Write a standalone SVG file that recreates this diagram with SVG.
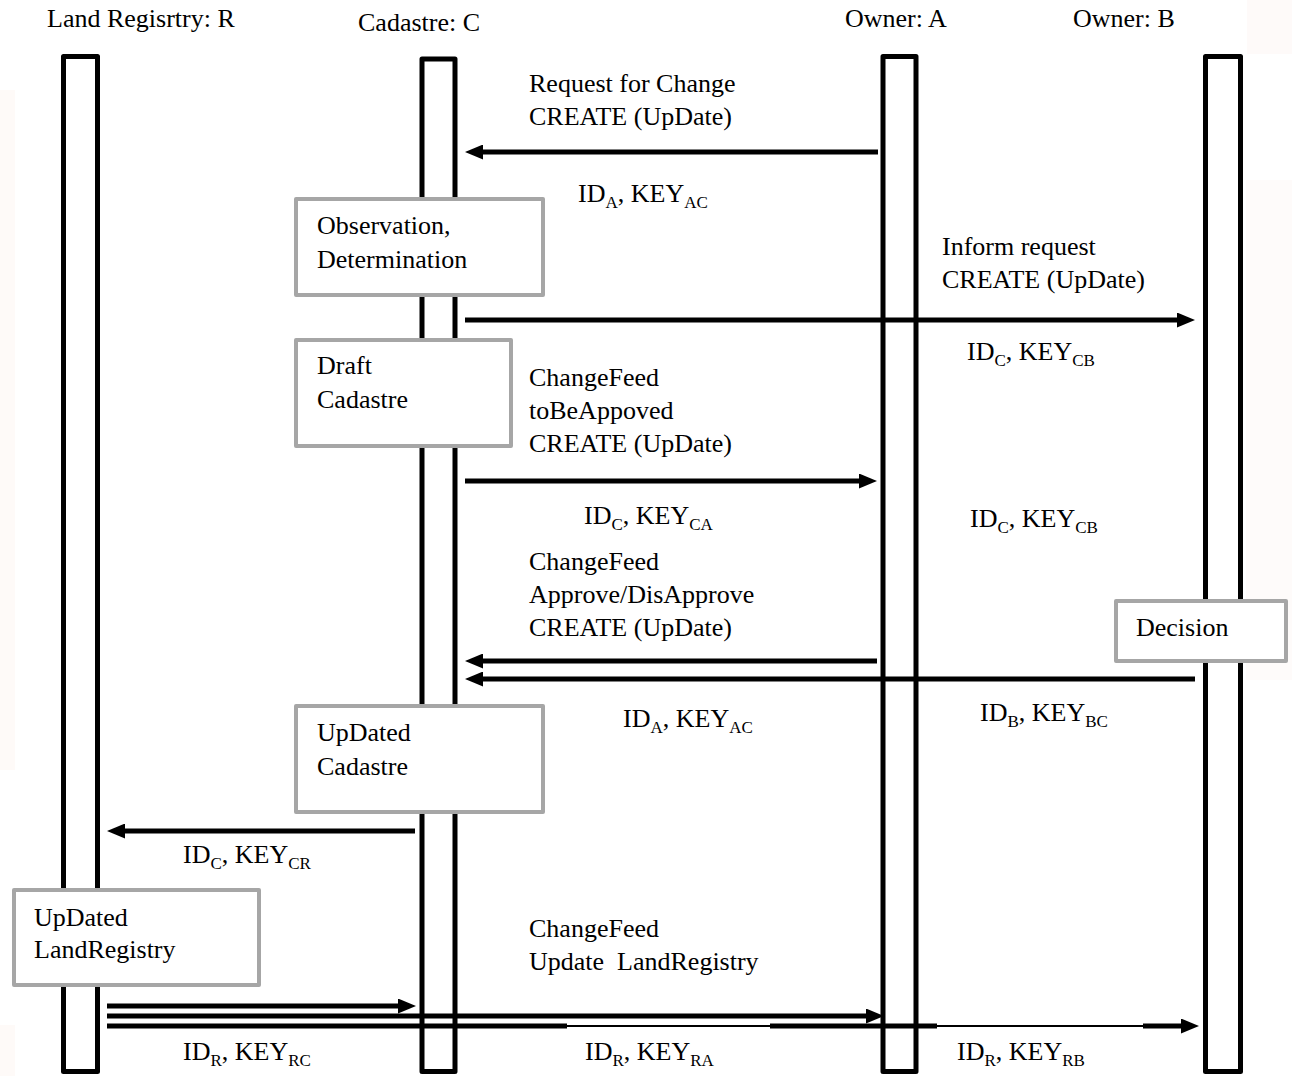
<svg xmlns="http://www.w3.org/2000/svg" width="1292" height="1076" viewBox="0 0 1292 1076">
<defs>
<style>
text{font-family:"Liberation Serif","Times New Roman",serif;font-size:26px;fill:#000}
.sub{font-size:17px}
.life{fill:#fff;stroke:#000;stroke-width:5;stroke-linejoin:round}
.box{fill:#fff;stroke:#a6a6a6;stroke-width:4;stroke-linejoin:round}
.msg{stroke:#000;stroke-width:5;fill:none}
</style>
<marker id="ah" markerUnits="userSpaceOnUse" markerWidth="18" markerHeight="15" viewBox="0 0 18 15" refX="6" refY="7.5" orient="auto">
<path d="M0,0 L18,7.5 L0,15 z" fill="#000"/>
</marker>
</defs>
<rect width="1292" height="1076" fill="#fff"/>
<rect x="0" y="90" width="15" height="680" fill="#fefaf8"/>
<rect x="0" y="1025" width="15" height="51" fill="#fefaf8"/>
<rect x="1247" y="0" width="45" height="54" fill="#fefaf9"/>
<rect x="1246" y="180" width="46" height="500" fill="#fefbfa"/>

<g id="lifelines">
<g id="lifeline-R"><text x="47" y="27">Land Regisrtry: R</text><rect class="life" x="63.5" y="56.5" width="34" height="1015"/></g>
<g id="lifeline-C"><text x="358" y="31">Cadastre: C</text><rect class="life" x="422" y="59" width="33" height="1012.5"/></g>
<g id="lifeline-A"><text x="845" y="27">Owner: A</text><rect class="life" x="883" y="56.5" width="33" height="1015"/></g>
<g id="lifeline-B"><text x="1073" y="27">Owner: B</text><rect class="life" x="1205.5" y="56.5" width="35" height="1015"/></g>
</g>

<g id="node-observation"><rect class="box" x="296" y="199" width="247" height="96"/><text x="317" y="234">Observation,</text><text x="317" y="268">Determination</text></g>
<g id="node-draft"><rect class="box" x="296" y="340" width="215" height="106"/><text x="317" y="374">Draft</text><text x="317" y="408">Cadastre</text></g>
<g id="node-decision"><rect class="box" x="1116" y="601" width="170" height="60"/><text x="1136" y="636">Decision</text></g>
<g id="node-updated-cadastre"><rect class="box" x="296" y="706" width="247" height="106"/><text x="317" y="741">UpDated</text><text x="317" y="775">Cadastre</text></g>
<g id="node-updated-landregistry"><rect class="box" x="14" y="890" width="245" height="95"/><text x="34" y="926">UpDated</text><text x="34" y="958">LandRegistry</text></g>

<g id="connectors">
<line class="msg" x1="878" y1="152" x2="477" y2="152" marker-end="url(#ah)"/>
<line class="msg" x1="465" y1="320" x2="1183" y2="320" marker-end="url(#ah)"/>
<line class="msg" x1="465" y1="481" x2="865" y2="481" marker-end="url(#ah)"/>
<line class="msg" x1="877" y1="661" x2="477" y2="661" marker-end="url(#ah)"/>
<line class="msg" x1="1195" y1="679" x2="477" y2="679" marker-end="url(#ah)"/>
<line class="msg" x1="415" y1="831" x2="119" y2="831" marker-end="url(#ah)"/>
<line class="msg" x1="107" y1="1006" x2="404" y2="1006" marker-end="url(#ah)"/>
<line class="msg" x1="107" y1="1016" x2="872" y2="1016" stroke-width="4" marker-end="url(#ah)"/>
<line x1="107" y1="1026" x2="1187" y2="1026" stroke="#000" stroke-width="2"/>
<line class="msg" x1="107" y1="1026" x2="1187" y2="1026" stroke-dasharray="460 203 167 206 9999" marker-end="url(#ah)"/>
</g>

<g id="labels">
<text x="529" y="92">Request for Change</text>
<text x="529" y="125">CREATE (UpDate)</text>
<text x="578" y="202">ID<tspan class="sub" dy="6">A</tspan><tspan dy="-6">, KEY</tspan><tspan class="sub" dy="6">AC</tspan></text>

<text x="942" y="255">Inform request</text>
<text x="942" y="288">CREATE (UpDate)</text>
<text x="967" y="360">ID<tspan class="sub" dy="6">C</tspan><tspan dy="-6">, KEY</tspan><tspan class="sub" dy="6">CB</tspan></text>

<text x="529" y="386">ChangeFeed</text>
<text x="529" y="419">toBeAppoved</text>
<text x="529" y="452">CREATE (UpDate)</text>
<text x="584" y="524">ID<tspan class="sub" dy="6">C</tspan><tspan dy="-6">, KEY</tspan><tspan class="sub" dy="6">CA</tspan></text>
<text x="970" y="527">ID<tspan class="sub" dy="6">C</tspan><tspan dy="-6">, KEY</tspan><tspan class="sub" dy="6">CB</tspan></text>

<text x="529" y="570">ChangeFeed</text>
<text x="529" y="603">Approve/DisApprove</text>
<text x="529" y="636">CREATE (UpDate)</text>
<text x="623" y="727">ID<tspan class="sub" dy="6">A</tspan><tspan dy="-6">, KEY</tspan><tspan class="sub" dy="6">AC</tspan></text>
<text x="980" y="721">ID<tspan class="sub" dy="6">B</tspan><tspan dy="-6">, KEY</tspan><tspan class="sub" dy="6">BC</tspan></text>

<text x="183" y="863">ID<tspan class="sub" dy="6">C</tspan><tspan dy="-6">, KEY</tspan><tspan class="sub" dy="6">CR</tspan></text>

<text x="529" y="937">ChangeFeed</text>
<text x="529" y="970" xml:space="preserve">Update  LandRegistry</text>
<text x="183" y="1060">ID<tspan class="sub" dy="6">R</tspan><tspan dy="-6">, KEY</tspan><tspan class="sub" dy="6">RC</tspan></text>
<text x="585" y="1060">ID<tspan class="sub" dy="6">R</tspan><tspan dy="-6">, KEY</tspan><tspan class="sub" dy="6">RA</tspan></text>
<text x="957" y="1060">ID<tspan class="sub" dy="6">R</tspan><tspan dy="-6">, KEY</tspan><tspan class="sub" dy="6">RB</tspan></text>
</g>
</svg>
